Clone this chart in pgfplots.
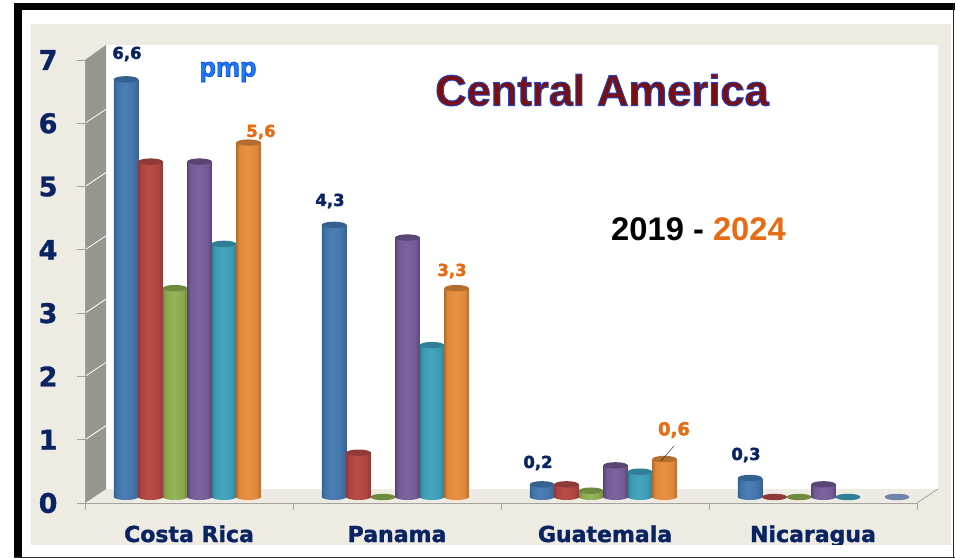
\documentclass[border=0pt]{standalone}
\usepackage{pgfplots}
\pgfplotsset{compat=1.18}
\usepackage{fontspec}
\setmainfont{DejaVu Sans}
\newfontfamily\arial{Liberation Sans}
\definecolor{navy}{HTML}{0A2463}
\definecolor{orangetxt}{HTML}{E86C14}
\definecolor{beige}{HTML}{EEECE2}
\definecolor{wall}{HTML}{97968E}
\definecolor{axgray}{HTML}{A3A29C}
\newcommand\mkshade[4]{%
 \definecolor{#1d}{HTML}{#2}\definecolor{#1m}{HTML}{#3}\definecolor{#1l}{HTML}{#4}%
 \pgfdeclarehorizontalshading{#1}{100bp}{color(0bp)=(#1d); color(25bp)=(#1d); color(31bp)=(#1m); color(48bp)=(#1l); color(66bp)=(#1m); color(75bp)=(#1d); color(100bp)=(#1d)}%
 \pgfdeclareplotmark{#1bot}{\pgfpathellipse{\pgfpointorigin}{\pgfqpoint{12.25pt}{0pt}}{\pgfqpoint{0pt}{3pt}}\pgfshadepath{#1}{0}\pgfusepath{discard}}%
}
\mkshade{cblue}{35618F}{4274A8}{4A7FB5}
\mkshade{cred}{8E3A38}{AE4441}{B84D4A}
\mkshade{cgreen}{6F8A3E}{8BA84F}{95B358}
\mkshade{cpurple}{5A4575}{745A96}{7D629F}
\mkshade{cteal}{2F7F96}{3D9AB3}{45A5BE}
\mkshade{corange}{B36E2F}{E0883D}{EB9142}
\mkshade{cslate}{6F83A8}{7F92B5}{8A9CBC}
\pgfdeclareplotmark{cyltop}{\pgfpathellipse{\pgfpointorigin}{\pgfqpoint{12.25pt}{0pt}}{\pgfqpoint{0pt}{3.2pt}}\pgfusepathqfill}
% one cylinder: shift within group, shading, category position, value
\newcommand\cyl[4]{%
 \addplot[only marks, mark=#2bot, forget plot, xshift=#1, yshift=6pt] coordinates {(#3,0)};
 \addplot[ybar, bar width=24.5pt, bar shift=0pt, draw=none, shade, shading=#2, forget plot, xshift=#1, yshift=6pt] coordinates {(#3,#4)};
 \addplot[only marks, mark=cyltop, mark options={fill=#2d, draw=none}, forget plot, xshift=#1, yshift=6pt] coordinates {(#3,#4)};
}
\newcommand\outl[3]{\special{pdf:code q 2 Tr #1 w #2 RG}#3\special{pdf:code Q}}
\newcommand\nv[1]{\outl{0.35}{0.04 0.14 0.39}{#1}}
\newcommand\og[1]{\outl{0.35}{0.91 0.42 0.08}{#1}}
\begin{document}
\begin{tikzpicture}
\useasboundingbox (0,0) rectangle (955pt,-559pt);
\begin{scope}[x=1pt,y=-1pt]
\fill[beige] (31,24) rectangle (951,545);
\fill[white] (106,45) rectangle (938,489);
\fill[wall] (85,60) -- (106,45) -- (106,489) -- (85,503) -- cycle;
\foreach \v in {1,...,6}{\draw[white,line width=0.8pt] (85,503-\v*63.29) -- (106,489-\v*63.29);}
\draw[axgray,line width=0.8pt] (917,503) -- (938,489);
\end{scope}
\begin{axis}[
 at={(85pt,-503pt)}, anchor=south west,
 scale only axis, width=832pt, height=443pt,
 xmin=0, xmax=4, ymin=0, ymax=7, clip=false,
 axis x line=bottom, axis y line=left,
 axis line style={axgray, line width=0.9pt, -},
 xtick={0.5,1.5,2.5,3.5},
 xticklabels={\nv{Costa Rica},\nv{Panama},\nv{Guatemala},\nv{Nicaragua}},
 minor xtick={0,1,2,3,4},
 ytick={0,...,7},
 yticklabels={\nv{0},\nv{1},\nv{2},\nv{3},\nv{4},\nv{5},\nv{6},\nv{7}},
 tick align=outside,
 major tick length=8pt, minor tick length=7pt,
 major x tick style={draw=none},
 minor x tick style={draw=axgray,line width=0.8pt},
 major y tick style={draw=axgray,line width=0.8pt},
 yticklabel style={font=\bfseries\fontsize{27}{27}\selectfont, text=navy, xshift=-16pt},
 xticklabel style={font=\bfseries\fontsize{22}{22}\selectfont, text=navy, anchor=base, yshift=-31pt},
]
% Costa Rica
\cyl{-63pt}{cblue}{0.5}{6.6}
\cyl{-38.5pt}{cred}{0.5}{5.3}
\cyl{-14pt}{cgreen}{0.5}{3.3}
\cyl{10.5pt}{cpurple}{0.5}{5.3}
\cyl{35pt}{cteal}{0.5}{4.0}
\cyl{59.5pt}{corange}{0.5}{5.6}
% Panama
\cyl{-63pt}{cblue}{1.5}{4.3}
\cyl{-38.5pt}{cred}{1.5}{0.7}
\cyl{-14pt}{cgreen}{1.5}{0}
\cyl{10.5pt}{cpurple}{1.5}{4.1}
\cyl{35pt}{cteal}{1.5}{2.4}
\cyl{59.5pt}{corange}{1.5}{3.3}
% Guatemala
\cyl{-63pt}{cblue}{2.5}{0.2}
\cyl{-38.5pt}{cred}{2.5}{0.2}
\cyl{-14pt}{cgreen}{2.5}{0.1}
\cyl{10.5pt}{cpurple}{2.5}{0.5}
\cyl{35pt}{cteal}{2.5}{0.4}
\cyl{59.5pt}{corange}{2.5}{0.6}
% Nicaragua
\cyl{-63pt}{cblue}{3.5}{0.3}
\cyl{-38.5pt}{cred}{3.5}{0}
\cyl{-14pt}{cgreen}{3.5}{0}
\cyl{10.5pt}{cpurple}{3.5}{0.2}
\cyl{35pt}{cteal}{3.5}{0}
\cyl{84pt}{cslate}{3.5}{0}
\end{axis}
\begin{scope}[x=1pt,y=-1pt]
\fill[white] (22,544.5) rectangle (953,557);
\fill[black] (14,3.5) rectangle (955,10.5);
\fill[black] (14,3.5) rectangle (22,558);
\fill[black!80] (14,557) rectangle (955,558.3);
\fill[black!85] (953,3.5) rectangle (954.2,558);
\def\lab{\bfseries\fontsize{16.5}{17}\selectfont}
\node[text=navy,font=\lab] at (127,54) {\nv{6,6}};
\node[text=navy,font=\lab] at (330,201) {\nv{4,3}};
\node[text=navy,font=\lab] at (538,463) {\nv{0,2}};
\node[text=navy,font=\lab] at (746,455) {\nv{0,3}};
\node[text=orangetxt,font=\lab] at (261,132) {\og{5,6}};
\node[text=orangetxt,font=\lab] at (452,271) {\og{3,3}};
\node[text=orangetxt,font=\bfseries\fontsize{18}{18}\selectfont] at (674,430) {\og{0,6}};
\draw[black!80,line width=0.5pt] (674,446) -- (661,461);
\node[font=\arial\bfseries\fontsize{27}{27}\selectfont,text={rgb,255:red,30;green,120;blue,255}] at (228,72) {\outl{0.7}{0.05 0.3 0.85}{pmp}};
\node[font=\arial\bfseries\fontsize{43.5}{44}\selectfont,text={rgb,255:red,125;green,14;blue,14}] at (602,90) {\outl{1.0}{0.13 0.25 0.75}{Central America}};
\node[font=\arial\bfseries\fontsize{32.7}{33}\selectfont,text=black] at (698.5,229.5) {2019 - \textcolor{orangetxt}{2024}};
\end{scope}
\end{tikzpicture}
\end{document}
